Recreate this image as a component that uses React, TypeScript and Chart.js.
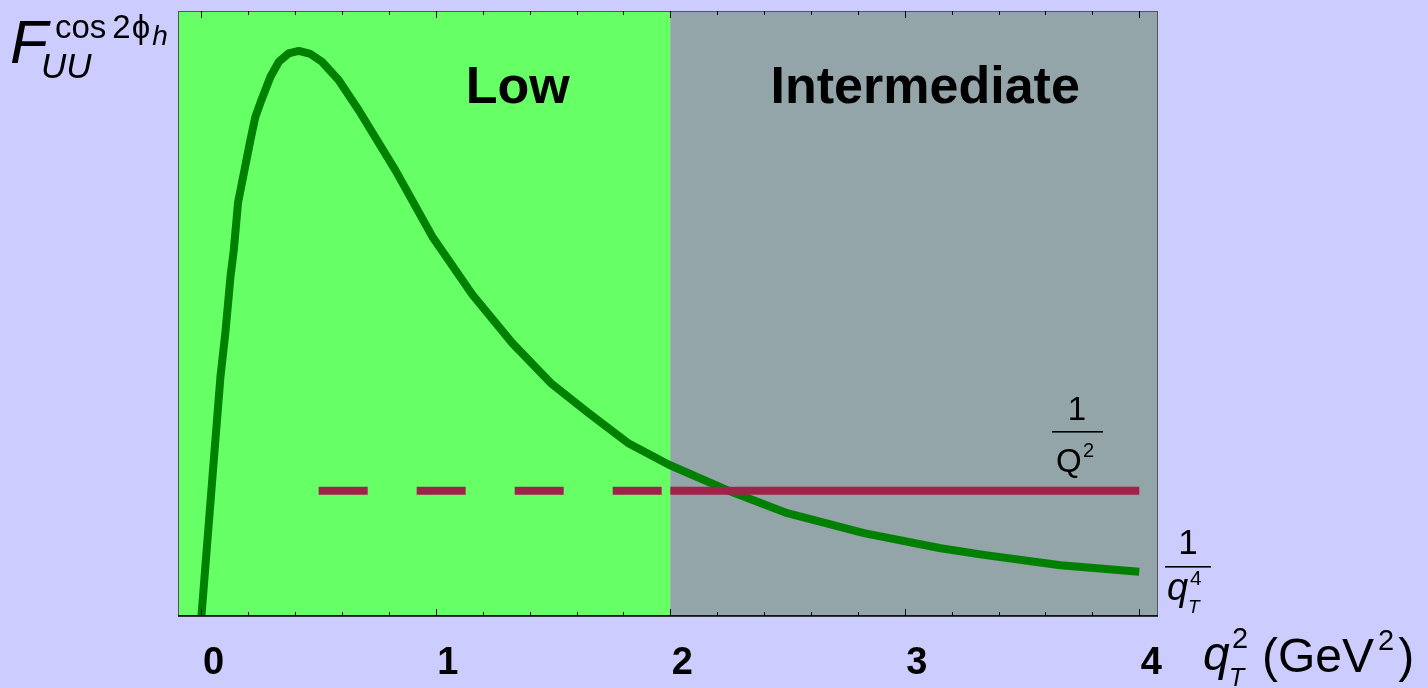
import React, { useEffect, useRef } from "react";
import { Chart, registerables } from "chart.js";

Chart.register(...registerables);

// ---- data ----
const curveX = [0, 0.045, 0.081, 0.102, 0.124, 0.138, 0.156, 0.209, 0.23, 0.256, 0.294, 0.33, 0.372, 0.415, 0.465, 0.514, 0.585, 0.671, 0.827, 0.985, 1.156, 1.326, 1.49, 1.653, 1.823, 1.994, 2.243, 2.499, 2.826, 3.153, 3.337, 3.664, 4.0];
const curveY = [0, 0.22, 0.395, 0.468, 0.561, 0.605, 0.683, 0.787, 0.825, 0.853, 0.891, 0.916, 0.93, 0.934, 0.929, 0.916, 0.886, 0.836, 0.737, 0.627, 0.531, 0.451, 0.385, 0.335, 0.285, 0.25, 0.208, 0.17, 0.137, 0.112, 0.101, 0.084, 0.073];
const q2DashedX = [0.5, 2];
const q2SolidX = [2, 4];
const q2Level = 0.207;
const xTickValues = [0, 1, 2, 3, 4];
const xTickLabels = ["0", "1", "2", "3", "4"];
const xMinorStep = 0.2;
const xRange = [-0.1, 4.08];
const yRange = [0, 1];
const regionEdges = [-0.1, 2, 4.08];
const regionNames = ["Low", "Intermediate"];

const FONT = "'Liberation Sans', Arial, Helvetica, sans-serif";
const BG = "#CCCCFF";
const REGION_COLORS = ["#66FF66", "#93A5A8"];

type Run = { t: string; font: string; dy?: number; dx?: number };

function drawRuns(ctx: CanvasRenderingContext2D, x: number, y: number, runs: Run[]) {
  let cx = x;
  for (const r of runs) {
    ctx.font = r.font;
    cx += r.dx || 0;
    ctx.fillText(r.t, cx, y + (r.dy || 0));
    cx += ctx.measureText(r.t).width;
  }
  return cx;
}

const decorPlugin = {
  id: "decor",
  beforeDraw(chart: any) {
    const { ctx, chartArea: a, scales } = chart;
    ctx.save();
    ctx.fillStyle = BG;
    ctx.fillRect(0, 0, chart.width, chart.height);
    const xs = scales.x;
    for (let i = 0; i < regionNames.length; i++) {
      const x0 = Math.max(a.left, xs.getPixelForValue(regionEdges[i]));
      const x1 = Math.min(a.right, xs.getPixelForValue(regionEdges[i + 1]));
      ctx.fillStyle = REGION_COLORS[i];
      ctx.fillRect(x0, a.top, x1 - x0, a.bottom - a.top);
    }
    ctx.restore();
  },
  afterDatasetsDraw(chart: any) {
    const { ctx, chartArea: a, scales } = chart;
    const xs = scales.x;
    ctx.save();
    // frame
    ctx.strokeStyle = "#555";
    ctx.lineWidth = 1;
    ctx.strokeRect(a.left + 0.5, a.top + 0.5, a.right - a.left - 1, a.bottom - a.top - 1);
    ctx.strokeStyle = "#000";
    ctx.lineWidth = 1.5;
    ctx.beginPath();
    ctx.moveTo(a.left, a.bottom);
    ctx.lineTo(a.right, a.bottom);
    ctx.stroke();
    // ticks (inward) on bottom and top
    ctx.lineWidth = 1;
    const n = Math.round((xTickValues[xTickValues.length - 1] - xTickValues[0]) / xMinorStep);
    for (let i = 0; i <= n; i++) {
      const v = xTickValues[0] + i * xMinorStep;
      const major = Math.abs(v - Math.round(v)) < 1e-6;
      const len = major ? 7 : 4;
      const px = Math.round(xs.getPixelForValue(v)) + 0.5;
      ctx.beginPath();
      ctx.moveTo(px, a.bottom);
      ctx.lineTo(px, a.bottom - len);
      ctx.moveTo(px, a.top);
      ctx.lineTo(px, a.top + len);
      ctx.stroke();
    }
    ctx.restore();
  },
  afterDraw(chart: any) {
    const { ctx, scales } = chart;
    const xs = scales.x;
    const ys = scales.y;
    ctx.save();
    ctx.fillStyle = "#000";
    ctx.textBaseline = "alphabetic";

    // region names
    ctx.textAlign = "center";
    ctx.font = `bold 52px ${FONT}`;
    ctx.fillText(regionNames[0], xs.getPixelForValue(1.349), ys.getPixelForValue(0.848));
    ctx.fillText(regionNames[1], xs.getPixelForValue(3.087), ys.getPixelForValue(0.848));
    ctx.textAlign = "left";

    // y-axis label F_UU^{cos 2phi_h}
    drawRuns(ctx, 10, 63, [{ t: "F", font: `italic 62px ${FONT}` }]);
    const e = drawRuns(ctx, 55, 38, [
      { t: "cos", font: `33px ${FONT}` },
      { t: "2", font: `33px ${FONT}`, dx: 6 },
      { t: "\u03D5", font: `33px ${FONT}`, dx: 1 },
    ]);
    drawRuns(ctx, e + 2, 45, [{ t: "h", font: `italic 28px ${FONT}` }]);
    drawRuns(ctx, 41, 78, [{ t: "UU", font: `italic 35px ${FONT}` }]);

    // 1/Q^2
    const qx = 1077;
    ctx.textAlign = "center";
    ctx.font = `33px ${FONT}`;
    ctx.fillText("1", qx, 420);
    ctx.fillRect(1052, 431, 51, 1.6);
    ctx.textAlign = "left";
    drawRuns(ctx, 1056, 472, [{ t: "Q", font: `33px ${FONT}` }]);
    drawRuns(ctx, 1083, 457, [{ t: "2", font: `20px ${FONT}` }]);

    // 1/q_T^4
    ctx.textAlign = "center";
    ctx.font = `35px ${FONT}`;
    ctx.fillText("1", 1188, 554);
    ctx.fillRect(1165, 566, 46, 1.6);
    ctx.textAlign = "left";
    drawRuns(ctx, 1167, 600, [{ t: "q", font: `italic 38px ${FONT}` }]);
    drawRuns(ctx, 1190, 585, [{ t: "4", font: `21px ${FONT}` }]);
    drawRuns(ctx, 1188, 613, [{ t: "T", font: `italic 19px ${FONT}` }]);

    // x-axis title q_T^2 (GeV^2)
    drawRuns(ctx, 1203, 670, [{ t: "q", font: `italic 48px ${FONT}` }]);
    drawRuns(ctx, 1232, 648, [{ t: "2", font: `29px ${FONT}` }]);
    drawRuns(ctx, 1229, 686, [{ t: "T", font: `italic 25px ${FONT}` }]);
    const g = drawRuns(ctx, 1262, 672, [{ t: "(GeV", font: `48px ${FONT}` }]);
    const s = drawRuns(ctx, g + 4, 650, [{ t: "2", font: `29px ${FONT}` }]);
    drawRuns(ctx, s + 4, 672, [{ t: ")", font: `48px ${FONT}` }]);

    ctx.restore();
  },
};

export default function App() {
  const ref = useRef<HTMLCanvasElement | null>(null);
  useEffect(() => {
    document.body.style.margin = "0";
    document.body.style.background = BG;
    const canvas = ref.current;
    if (!canvas) return;
    const pts = (xs: number[], ys: number[]) => xs.map((x, i) => ({ x, y: ys[i] }));
    const chart = new Chart(canvas, {
      type: "line",
      data: {
        datasets: [
          {
            label: "1/Q^2 dashed",
            data: q2DashedX.map((x) => ({ x, y: q2Level })),
            borderColor: "#A0224A",
            borderWidth: 8,
            borderDash: [49, 49],
            borderCapStyle: "butt",
            pointRadius: 0,
            order: 0,
          },
          {
            label: "1/Q^2",
            data: q2SolidX.map((x) => ({ x, y: q2Level })),
            borderColor: "#A0224A",
            borderWidth: 8,
            borderCapStyle: "butt",
            pointRadius: 0,
            order: 0,
          },
          {
            label: "F",
            data: pts(curveX, curveY),
            borderColor: "#008000",
            borderWidth: 8,
            borderJoinStyle: "round",
            tension: 0,
            pointRadius: 0,
            order: 1,
          },
        ],
      },
      options: {
        animation: false,
        responsive: false,
        events: [],
        layout: { padding: { left: 178, right: 270, top: 11, bottom: 0 } },
        plugins: { legend: { display: false }, tooltip: { enabled: false }, title: { display: false } },
        scales: {
          x: {
            type: "linear",
            position: "bottom",
            min: xRange[0],
            max: xRange[1],
            grid: { display: false, drawTicks: false },
            border: { display: false },
            afterBuildTicks: (s: any) => {
              s.ticks = xTickValues.map((v) => ({ value: v }));
            },
            afterFit: (s: any) => {
              s.height = 72;
            },
            ticks: {
              autoSkip: false,
              maxRotation: 0,
              labelOffset: 12,
              padding: 25,
              color: "#000",
              font: { family: FONT, size: 38, weight: "bold" },
              callback: (v: any) => {
                const i = xTickValues.indexOf(Number(v));
                return i >= 0 ? xTickLabels[i] : "";
              },
            },
          },
          y: { type: "linear", display: false, min: yRange[0], max: yRange[1] },
        },
      },
      plugins: [decorPlugin],
    } as any);
    return () => chart.destroy();
  }, []);
  return (
    <div style={{ position: "absolute", left: 0, top: 0, width: 1428, height: 688 }}>
      <canvas ref={ref} width={1428} height={688} style={{ display: "block", width: 1428, height: 688 }} />
    </div>
  );
}
